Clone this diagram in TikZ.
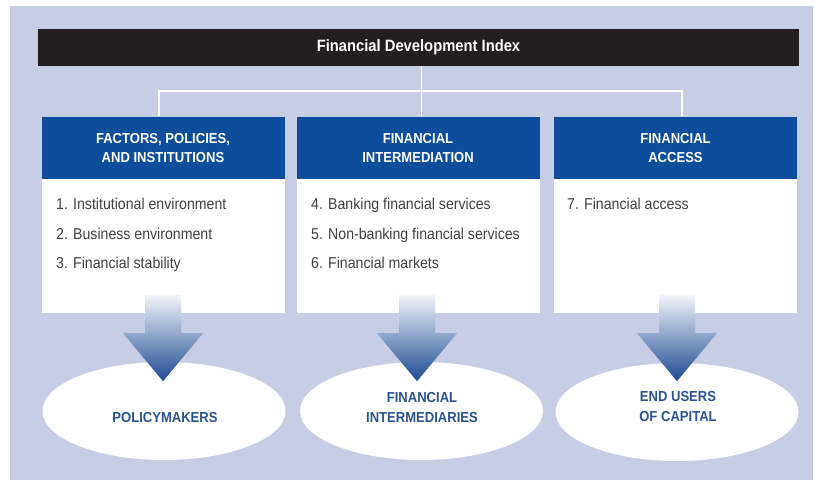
\documentclass[tikz,border=0pt]{standalone}
\usepackage{fontspec}
\setmainfont{Liberation Sans}[FakeStretch=0.9]
\usetikzlibrary{shapes.geometric,calc}
\definecolor{bgblue}{HTML}{C6CDE5}
\definecolor{hdrblue}{HTML}{0C4E9B}
\definecolor{barblack}{HTML}{231F20}
\definecolor{etxt}{HTML}{2B5391}
\definecolor{bodytxt}{HTML}{404040}
\definecolor{arrtop}{HTML}{F2F4FA}
\definecolor{arrmid}{HTML}{7D93C6}
\definecolor{arrbot}{HTML}{1B4A92}
\tikzset{
  titlebar/.style={fill=barblack, text=white, inner sep=0pt, minimum width=761pt, minimum height=37pt,
    font=\bfseries\fontsize{16.4}{19}\selectfont},
  hdr/.style={fill=hdrblue, text=white, inner sep=0pt, minimum width=243pt, minimum height=63pt,
    align=center, font=\bfseries\fontsize{14.5}{19}\selectfont},
  bodybox/.style={fill=white, inner sep=0pt, minimum width=243pt, minimum height=134pt},
  item/.style={anchor=base west, inner sep=0pt, text=bodytxt, font=\fontsize{15.7}{19}\selectfont},
  oval/.style={ellipse, fill=white, inner sep=0pt, minimum width=243pt, minimum height=98pt},
  otext/.style={text=etxt, align=center, inner sep=0pt, font=\bfseries\fontsize{14.5}{20}\selectfont},
  conn/.style={draw=white, line width=1.8pt},
  arrowshade/.style={top color=arrtop, middle color=arrmid, bottom color=arrbot}
}
\newcommand\blockarr[2]{%
  \shade[arrowshade] ($(#1.south)+(#2-18,-18)$) -- ($(#1.south)+(#2-18,20)$) -- ($(#1.south)+(#2-40,20)$)
    -- ($(#1.south)+(#2,68)$) -- ($(#1.south)+(#2+40,20)$) -- ($(#1.south)+(#2+18,20)$)
    -- ($(#1.south)+(#2+18,-18)$) -- cycle;}
\begin{document}
\begin{tikzpicture}[x=1pt,y=-1pt]
\useasboundingbox (0,0) rectangle (815,482);
\fill[white] (0,0) rectangle (815,482);
\fill[bgblue] (10,6) rectangle (813,480);

\node[titlebar] (title) at (418.5,47.5) {Financial Development Index};

\node[hdr] (h1) at (163,148) {FACTORS, POLICIES,\\AND INSTITUTIONS};
\node[hdr] (h2) at (418,148) {FINANCIAL\\INTERMEDIATION};
\node[hdr] (h3) at (675.5,148) {FINANCIAL\\ACCESS};

\node[bodybox] (b1) at (163,246) {};
\node[bodybox] (b2) at (418,246) {};
\node[bodybox] (b3) at (675.5,246) {};

\draw[conn] ([xshift=3pt]title.south) -- ([xshift=3pt]title.south |- h2.north);
\draw[conn] ([xshift=-4pt]h1.north) -- ++(0,-25) -| ([xshift=6.5pt]h3.north);

\node[item] (i1) at (56,209) {1. Institutional environment};
\node[item] (i2) at (56,239) {2. Business environment};
\node[item] (i3) at (56,268) {3. Financial stability};
\node[item] (i4) at (311,209) {4. Banking financial services};
\node[item] (i5) at (311,239) {5. Non-banking financial services};
\node[item] (i6) at (311,268) {6. Financial markets};
\node[item] (i7) at (567,209) {7. Financial access};

\node[oval] (e1) at (164,411) {};
\node[oval] (e2) at (421.5,411) {};
\node[oval] (e3) at (677,412) {};

\blockarr{b1}{0}
\blockarr{b2}{-1}
\blockarr{b3}{1.5}

\node[otext] (t1) at (165,418) {POLICYMAKERS};
\node[otext] (t2) at (422,408) {FINANCIAL\\INTERMEDIARIES};
\node[otext] (t3) at (678,407) {END USERS\\OF CAPITAL};
\end{tikzpicture}
\end{document}
